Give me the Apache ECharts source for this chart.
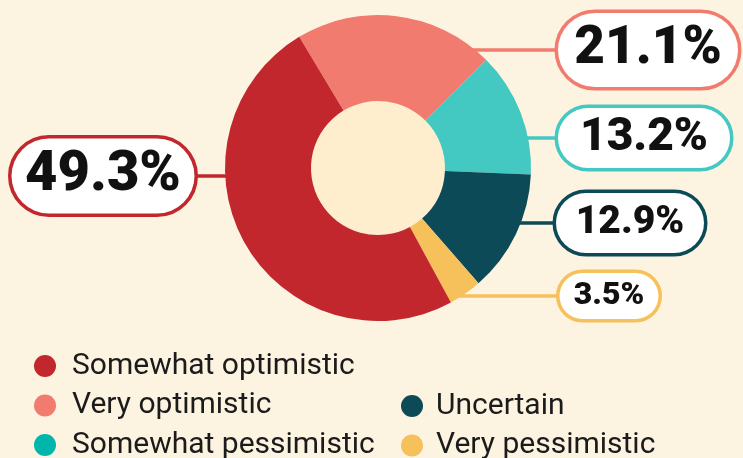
<!DOCTYPE html>
<html>
<head>
<meta charset="utf-8">
<script src="https://cdn.jsdelivr.net/npm/echarts@6/dist/echarts.min.js"></script>
<style>
  html, body { margin: 0; padding: 0; background: #fdf3e1; }
  #chart { width: 743px; height: 458px; }
</style>
</head>
<body>
<div id="chart"></div>
<script>
// slices in drawing order, clockwise from the top
const categories = ["Very optimistic", "Somewhat pessimistic", "Uncertain", "Very pessimistic", "Somewhat optimistic"];
const shares = [21.1, 13.2, 12.9, 3.5, 49.3];
const sliceColors = ["#f07b6e", "#44c8c2", "#0c4a58", "#f6c15b", "#c1272d"];

// legend columns
const legendLeft = ["Somewhat optimistic", "Very optimistic", "Somewhat pessimistic"];
const legendRight = ["Uncertain", "Very pessimistic"];
const legendColors = {
  "Somewhat optimistic": "#c1272d",
  "Very optimistic": "#f07b6e",
  "Somewhat pessimistic": "#00b5ab",
  "Uncertain": "#0c4a58",
  "Very pessimistic": "#f6c15b"
};

// where each value box sits (same order as categories)
const labelBoxes = [
  { cx: 648, cy: 50, w: 184, h: 78, fs: 53 },
  { cx: 644, cy: 138, w: 176, h: 64, fs: 46 },
  { cx: 630, cy: 223, w: 152, h: 64, fs: 39 },
  { cx: 609, cy: 296, w: 103, h: 50, fs: 32 },
  { cx: 103, cy: 176, w: 187, h: 79, fs: 56 }
];

const CENTER = [378, 168];
const R_OUT = 153;
const R_IN = 67;

let chart = echarts.init(document.getElementById("chart"));

const pieData = categories.map(function (name, i) {
  const b = labelBoxes[i];
  return {
    name: name,
    value: shares[i],
    itemStyle: { color: sliceColors[i] },
    label: {
      fontSize: b.fs,
      lineHeight: b.h - 4,
      width: b.w - 4,
      borderColor: sliceColors[i],
      borderRadius: b.h / 2
    },
    labelLine: { lineStyle: { color: sliceColors[i] } }
  };
});

function legendData(names) {
  return names.map(function (n) {
    return { name: n, itemStyle: { color: legendColors[n] } };
  });
}

function legendText(gap) {
  return {
    fontFamily: "Roboto, sans-serif",
    fontSize: 30,
    lineHeight: 30,
    color: "#1b1b1b",
    padding: [0, 0, 0, gap]
  };
}

const option = {
  backgroundColor: "#fdf3e1",
  animation: false,
  legend: [
    {
      data: legendData(legendLeft),
      orient: "vertical",
      left: 34,
      top: 351,
      height: 130,
      padding: 0,
      icon: "circle",
      itemWidth: 22,
      itemHeight: 22,
      itemGap: 9.5,
      textStyle: legendText(11),
      selectedMode: false
    },
    {
      data: legendData(legendRight),
      orient: "vertical",
      left: 401,
      top: 391,
      height: 90,
      padding: 0,
      icon: "circle",
      itemWidth: 22,
      itemHeight: 22,
      itemGap: 9.5,
      textStyle: legendText(8),
      selectedMode: false
    }
  ],
  graphic: [
    {
      type: "circle",
      shape: { cx: CENTER[0], cy: CENTER[1], r: R_IN },
      style: { fill: "#feeecd" },
      silent: true
    }
  ],
  series: [
    {
      type: "pie",
      center: CENTER,
      radius: [R_IN, R_OUT],
      startAngle: 121,
      clockwise: true,
      avoidLabelOverlap: false,
      data: pieData,
      label: {
        show: true,
        position: "outside",
        formatter: "{c}%",
        fontFamily: "Roboto, sans-serif",
        fontWeight: 900,
        color: "#111",
        backgroundColor: "#fff",
        borderWidth: 3.5,
        align: "center",
        overflow: "none",
        padding: 0
      },
      labelLine: {
        show: true,
        length: 10,
        length2: 10,
        lineStyle: { width: 3.5 }
      },
      labelLayout: function (p) {
        const b = labelBoxes[p.dataIndex];
        const dy = b.cy - CENTER[1];
        const dx = Math.sqrt(R_OUT * R_OUT - dy * dy);
        const right = b.cx > CENTER[0];
        const edgeX = right ? CENTER[0] + dx - 3 : CENTER[0] - dx + 3;
        const boxX = right ? b.cx - b.w / 2 : b.cx + b.w / 2;
        return {
          x: b.cx,
          y: b.cy,
          align: "center",
          verticalAlign: "middle",
          labelLinePoints: [[edgeX, b.cy], [(edgeX + boxX) / 2, b.cy], [boxX, b.cy]]
        };
      }
    }
  ]
};

chart.setOption(option);
</script>
</body>
</html>
